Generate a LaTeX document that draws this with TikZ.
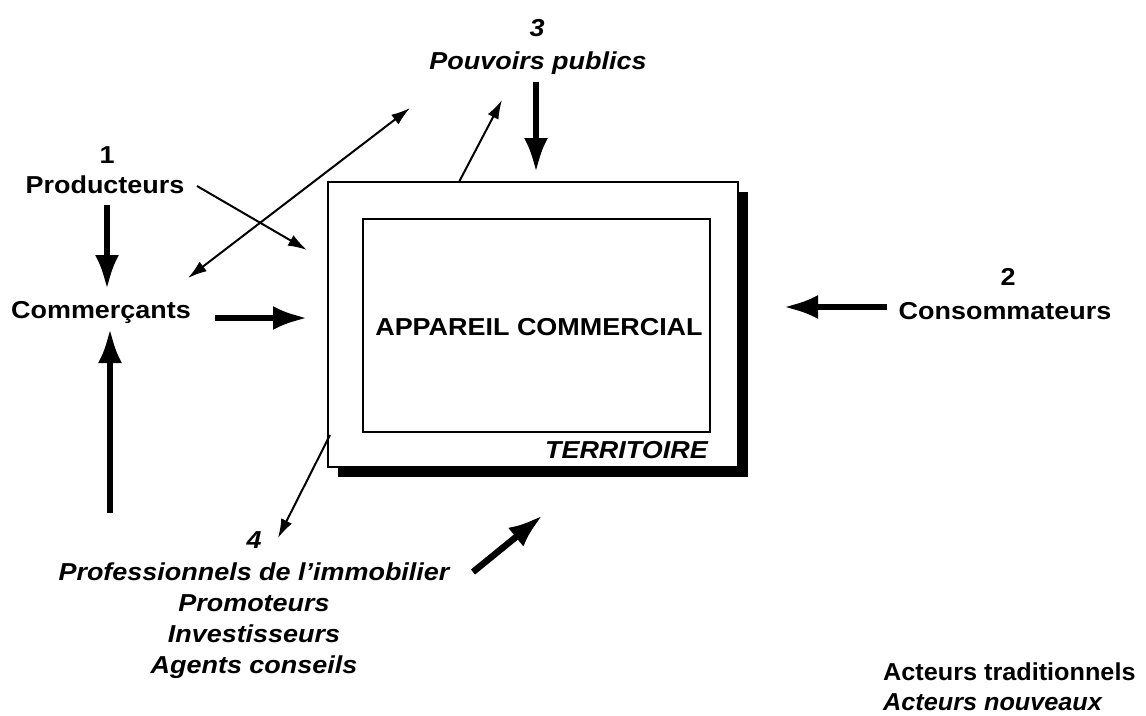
\documentclass[tikz,border=0pt]{standalone}
\usepackage{fontspec}
\setmainfont{Liberation Sans}
\usetikzlibrary{arrows.meta}
\begin{document}
\begin{tikzpicture}[x=1pt,y=-1pt,
  lbl/.style={font=\fontsize{24.5}{31}\selectfont\bfseries, xscale=1.1, inner sep=0pt, align=center},
  ilbl/.style={lbl, font=\fontsize{24.5}{31}\selectfont\bfseries\itshape},
  leglbl/.style={lbl, xscale=1.03/1.1},
  arrthin/.style={line width=2pt, -{Latex[length=19pt,width=12pt]}},
  arrboth/.style={line width=2pt, {Latex[length=19pt,width=12pt]}-{Latex[length=19pt,width=12pt]}},
  arrbig/.style={line width=6.5pt, -{Latex[length=35pt,width=24pt]}},
  boxframe/.style={minimum width=410pt, minimum height=285pt, inner sep=0pt, outer sep=0pt},
]
\useasboundingbox (0,0) rectangle (1146,715);
\fill[white] (0,0) rectangle (1146,715);

% territory box with shadow
\node[boxframe, fill=black] (shadow) at (543,334.5) {};
\node[boxframe, draw, line width=2.2pt, fill=white] (terr) at (533,324.5) {};
\node[draw, line width=1.8pt, minimum width=347pt, minimum height=213pt, inner sep=0pt] (app) at (536.5,325.5) {};
\node[lbl] (apptext) at (539,327) {APPAREIL COMMERCIAL};
\node[ilbl, anchor=east] (terrtext) at (708,450) {TERRITOIRE};

% actors
\node[lbl] (n1) at (107,155) {1};
\node[lbl] (prod) at (105,185) {Producteurs};
\node[lbl] (comm) at (101,312) {Commerçants};
\node[ilbl] (n3) at (537,28) {3};
\node[ilbl] (pouv) at (538,63) {Pouvoirs publics};
\node[lbl] (n2) at (1008,277) {2};
\node[lbl] (cons) at (1005,311) {Consommateurs};
\node[ilbl] (n4) at (254,540) {4};
\node[ilbl] (prof) at (254,620.5) {Professionnels de l'immobilier\\Promoteurs\\Investisseurs\\Agents conseils};

% legend
\node[leglbl, anchor=west] (leg1) at (883,672) {Acteurs traditionnels};
\node[leglbl, font=\fontsize{24.5}{31}\selectfont\bfseries\itshape, anchor=west] (leg2) at (883,702) {Acteurs nouveaux};

% connector end points
\coordinate (prodS) at (107,205);
\coordinate (commN) at (107,290);
\coordinate (commE) at (215,318);
\coordinate (terrW) at (308,318);
\coordinate (commS) at (110,328);
\coordinate (bottomT) at (110,513);
\coordinate (prodE) at (197,186);
\coordinate (terrNW) at (307,250);
\coordinate (commNE) at (188,278);
\coordinate (pouvSW) at (410,108);
\coordinate (terrTop) at (459,182);
\coordinate (pouvS1) at (502,100);
\coordinate (pouvS) at (536,82);
\coordinate (terrN) at (536,173);
\coordinate (consW) at (887,307);
\coordinate (terrE) at (783,307);
\coordinate (terrSW) at (330,435);
\coordinate (n4N) at (278,538);
\coordinate (profE) at (473,572);
\coordinate (terrS) at (543,515);

% connectors
\draw[arrbig] (prodS) -- (commN);
\draw[arrbig] (commE) -- (terrW);
\draw[arrbig] (bottomT) -- (commS);
\draw[arrthin] (prodE) -- (terrNW);
\draw[arrboth] (commNE) -- (pouvSW);
\draw[arrthin] (terrTop) -- (pouvS1);
\draw[arrbig] (pouvS) -- (terrN);
\draw[arrbig] (consW) -- (terrE);
\draw[arrthin] (terrSW) -- (n4N);
\draw[arrbig] (profE) -- (terrS);
\end{tikzpicture}
\end{document}
